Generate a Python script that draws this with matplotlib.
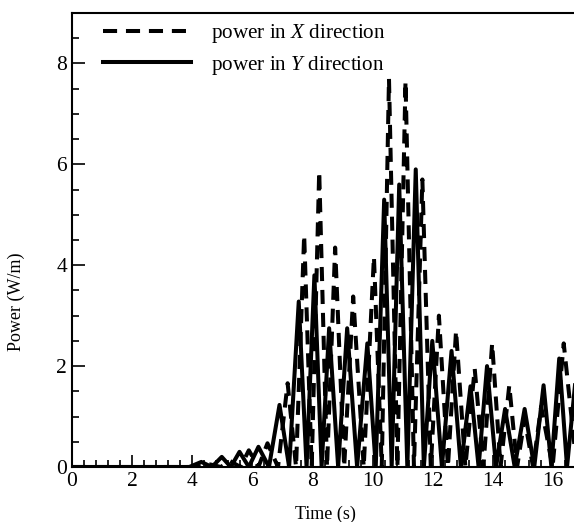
import numpy as np
import matplotlib
matplotlib.use('Agg')
import matplotlib.pyplot as plt
from matplotlib.ticker import MultipleLocator

plt.rcParams['font.family'] = ['Liberation Serif', 'DejaVu Serif']
plt.rcParams['mathtext.fontset'] = 'custom'
plt.rcParams['mathtext.rm'] = 'Liberation Serif'
plt.rcParams['mathtext.it'] = 'Liberation Serif:italic'

# power in X direction (dashed): peaks and troughs
time_x = [0, 4.1, 4.6, 4.95, 5.25, 5.6, 5.88, 6.2, 6.5, 6.85, 7.17, 7.45, 7.72, 7.97,
          8.22, 8.48, 8.75, 9.05, 9.35, 9.7, 10.04, 10.3, 10.54, 10.82, 11.09, 11.37,
          11.65, 11.93, 12.2, 12.5, 12.77, 13.08, 13.39, 13.68, 13.97, 14.25, 14.54,
          14.8, 15.05, 15.33, 15.6, 15.98, 16.35, 16.73]
power_x = [0, 0, 0.05, 0, 0.12, 0, 0.33, 0, 0.47, 0, 1.66, 0, 4.6, 0,
           5.86, 0, 4.35, 0, 3.38, 0, 4.17, 0, 7.7, 0, 7.65, 0,
           5.7, 0, 3.0, 0, 2.7, 0, 1.95, 0, 2.45, 0, 1.62,
           0, 0.95, 0, 1.2, 0, 2.45, 0.3]

# power in Y direction (solid)
time_y = [0, 3.9, 4.3, 4.65, 4.98, 5.28, 5.57, 5.88, 6.2, 6.55, 6.9, 7.22, 7.54, 7.8,
          8.06, 8.3, 8.55, 8.85, 9.15, 9.48, 9.82, 10.1, 10.38, 10.63, 10.88, 11.15,
          11.43, 11.7, 11.98, 12.3, 12.62, 12.93, 13.25, 13.52, 13.8, 14.1, 14.4,
          14.72, 15.05, 15.37, 15.68, 15.94, 16.2, 16.46, 16.73]
power_y = [0, 0, 0.1, 0, 0.2, 0, 0.3, 0, 0.4, 0, 1.23, 0, 3.28, 0,
           3.8, 0, 2.75, 0, 2.75, 0, 2.45, 0, 5.3, 0, 5.6, 0,
           5.9, 0, 2.5, 0, 2.3, 0, 1.6, 0, 2.0, 0, 1.15,
           0, 1.15, 0, 1.62, 0, 2.15, 0, 1.65]

fig = plt.figure(figsize=(5.74, 5.22), dpi=100)
ax = fig.add_axes([0.1254, 0.1054, 0.8766, 0.8697])

ax.plot(time_x, power_x, color='black', lw=2.9, dashes=(3.5, 2.2),
        label='power in $X$ direction')
ax.plot(time_y, power_y, color='black', lw=2.9, label='power in $Y$ direction')

ax.set_xlim(0, 16.73)
ax.set_ylim(0, 9)
ax.xaxis.set_major_locator(MultipleLocator(2))
ax.xaxis.set_minor_locator(MultipleLocator(0.4))
ax.yaxis.set_major_locator(MultipleLocator(2))
ax.yaxis.set_minor_locator(MultipleLocator(0.5))
ax.tick_params(which='both', direction='in', labelsize=15.5, width=1.2)
ax.tick_params(which='major', length=9)
ax.tick_params(which='minor', length=5)
for s in ax.spines.values():
    s.set_linewidth(1.5)

ax.set_xlabel('Time (s)', fontsize=13)
ax.set_ylabel('Power (W/m)', fontsize=13)
ax.xaxis.set_label_coords(0.504, -0.085)
ax.yaxis.set_label_coords(-0.094, 0.363)

ax.legend(loc='upper left', bbox_to_anchor=(0.024, 1.022), frameon=False, fontsize=15.2,
          handlelength=4.15, handletextpad=0.95, labelspacing=0.42)

fig.savefig('out.png', dpi=100)
